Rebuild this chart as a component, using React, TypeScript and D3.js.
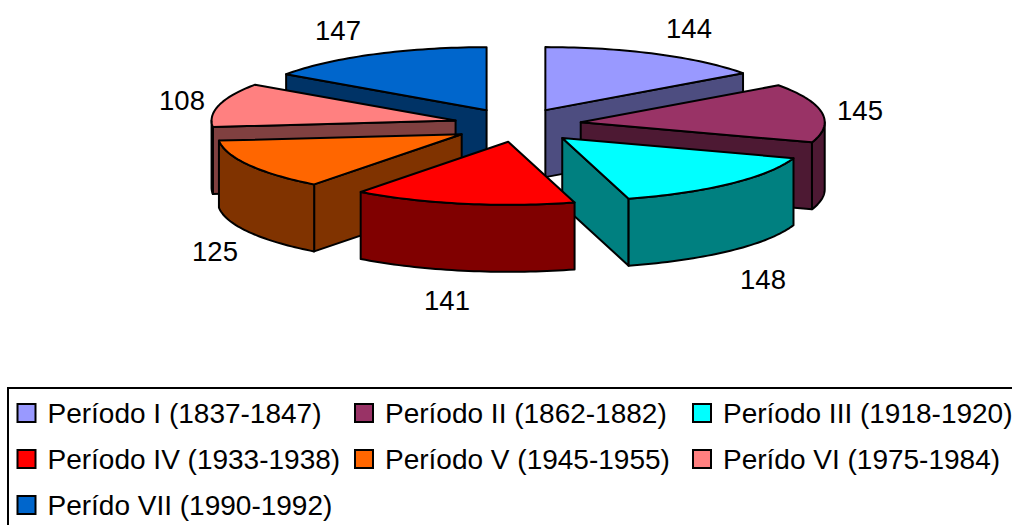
import React from "react";
import * as d3 from "d3";

const periods = [
  "Período I (1837-1847)",
  "Período II (1862-1882)",
  "Período III (1918-1920)",
  "Período IV (1933-1938)",
  "Período V (1945-1955)",
  "Perído VI (1975-1984)",
  "Perído VII (1990-1992)",
];
const values = [144, 145, 148, 141, 125, 108, 147];
const topColors = ["#9999ff", "#993366", "#00ffff", "#ff0000", "#ff6600", "#ff8080", "#0066cc"];
const sideColors = ["#4d4d80", "#4d1933", "#008080", "#800000", "#803300", "#804040", "#003366"];
const labelAnchors = [
  [689, 38], [860, 120], [763, 289], [447, 310], [215, 261], [182, 110], [338, 40],
];
const sliceNudges = [
  [0, 0], [1.5, 0], [2, 1.5], [3.5, 1], [0.5, 1.5], [0.5, 0], [-0.5, 0],
];
const legendCols = [17.5, 355, 693];
const legendRows = [404, 450, 496];

const W = 1012, H = 525;
const cx = 516.5, cy = 124.7, rx = 244, ry = 63, depth = 67, explode = 0.26;
const FONT = "'Liberation Sans', Arial, sans-serif";

const pie = d3.pie<number>().sort(null).startAngle(0).endAngle(2 * Math.PI);
const arcs = pie(values);
const line = d3.line<[number, number]>();

type Pt = [number, number];
const faces = arcs.map((a, i) => {
  const mid = (a.startAngle + a.endAngle) / 2;
  const ax = cx + explode * rx * Math.sin(mid) + sliceNudges[i][0];
  const ay = cy - explode * ry * Math.cos(mid) + sliceNudges[i][1];
  const pt = (t: number, dz = 0): Pt => [ax + rx * Math.sin(t), ay - ry * Math.cos(t) + dz];
  const sample = (t0: number, t1: number, dz = 0): Pt[] =>
    d3.range(0, 41).map((k) => pt(t0 + ((t1 - t0) * k) / 40, dz));
  const apex: Pt = [ax, ay];
  const apexLow: Pt = [ax, ay + depth];
  const wall = (t: number): Pt[] => [apex, pt(t), pt(t, depth), apexLow];
  const shapes: Pt[][] = [];
  if (Math.sin(a.startAngle) < -1e-6) shapes.push(wall(a.startAngle));
  if (Math.sin(a.endAngle) > 1e-6) shapes.push(wall(a.endAngle));
  const lo = Math.max(a.startAngle, Math.PI / 2);
  const hi = Math.min(a.endAngle, (3 * Math.PI) / 2);
  if (hi > lo) shapes.push([...sample(lo, hi), ...sample(lo, hi, depth).reverse()]);
  const top: Pt[] = [apex, ...sample(a.startAngle, a.endAngle)];
  return { i, ay, shapes, top };
});
const order = [...faces].sort((p, q) => p.ay - q.ay);

export default function App() {
  return (
    <svg
      width={W}
      height={H}
      viewBox={`0 0 ${W} ${H}`}
      style={{ position: "fixed", left: 0, top: 0, background: "#fff", display: "block" }}
    >
      {order.map((f) => (
        <g key={f.i} stroke="#000" strokeWidth={2} strokeLinejoin="round">
          {f.shapes.map((s, k) => (
            <path key={k} d={line(s) + "Z"} fill={sideColors[f.i]} />
          ))}
          <path d={line(f.top) + "Z"} fill={topColors[f.i]} />
        </g>
      ))}
      <g fontFamily={FONT} fontSize={27.5} fill="#000" textAnchor="middle">
        {values.map((v, i) => (
          <text key={i} x={labelAnchors[i][0]} y={labelAnchors[i][1]}>{v}</text>
        ))}
      </g>
      <rect x={8} y={388} width={W + 10} height={H} fill="none" stroke="#000" strokeWidth={2} />
      <g fontFamily={FONT} fontSize={28} fill="#000">
        {periods.map((p, i) => {
          const c = legendCols[i % 3];
          const r = legendRows[Math.floor(i / 3)];
          return (
            <g key={p}>
              <rect x={c} y={r} width={18} height={18} fill={topColors[i]} stroke="#000" strokeWidth={2} />
              <text x={c + 30} y={r + 19}>{p}</text>
            </g>
          );
        })}
      </g>
    </svg>
  );
}
